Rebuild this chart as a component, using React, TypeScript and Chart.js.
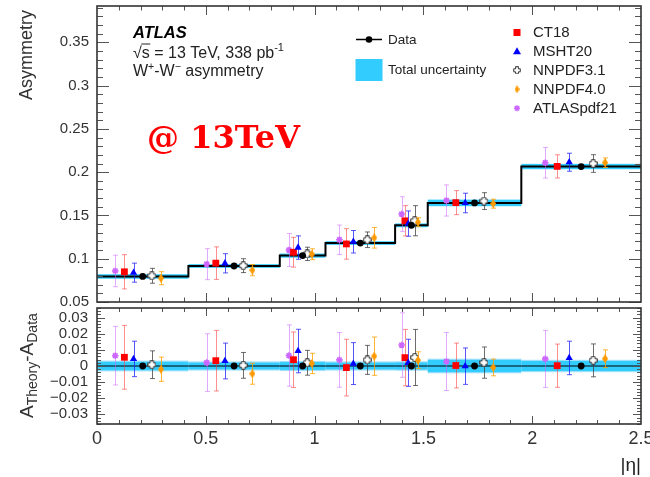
import React, { useEffect, useRef } from 'react';
import { Chart, registerables } from 'chart.js';

Chart.register(...registerables);

const FONT = "'Liberation Sans', Arial, Helvetica, sans-serif";
Chart.defaults.font.family = FONT;

// |eta| bin edges
const etaEdges = [0, 0.42, 0.84, 1.05, 1.37, 1.52, 1.95, 2.5];
// measured W+/W- asymmetry and its total uncertainty
const dataAsym = [0.0795, 0.0916, 0.1036, 0.1181, 0.1386, 0.1645, 0.2065];
const dataTotalUnc = [0.0026, 0.0021, 0.0024, 0.0021, 0.0022, 0.0038, 0.0031];
// theory predictions
const ct18Asym = [0.0849, 0.0949, 0.1075, 0.1171, 0.1438, 0.1648, 0.2067];
const ct18Unc = [0.0198, 0.0188, 0.0172, 0.0176, 0.0175, 0.0139, 0.0134];
const msht20Asym = [0.0839, 0.0947, 0.1129, 0.1196, 0.1406, 0.1644, 0.2115];
const msht20Unc = [0.011, 0.0111, 0.0135, 0.013, 0.0146, 0.0113, 0.0104];
const nnpdf31Asym = [0.0803, 0.092, 0.1056, 0.1219, 0.1439, 0.1666, 0.21];
const nnpdf31Unc = [0.0086, 0.008, 0.0077, 0.009, 0.0174, 0.0097, 0.0102];
const nnpdf40Asym = [0.0775, 0.0868, 0.1052, 0.1242, 0.1422, 0.1636, 0.211];
const nnpdf40Unc = [0.0075, 0.0065, 0.0063, 0.0119, 0.0052, 0.0052, 0.0055];
const atlaspdf21Asym = [0.0859, 0.0937, 0.1101, 0.1219, 0.1516, 0.1673, 0.2109];
const atlaspdf21Unc = [0.0182, 0.0179, 0.019, 0.017, 0.02, 0.018, 0.0177];

// tick labels
const xTickValues = [0, 0.5, 1, 1.5, 2, 2.5];
const yTickValuesTop = [0.05, 0.1, 0.15, 0.2, 0.25, 0.3, 0.35];
const yTickValuesRatio = [-0.03, -0.02, -0.01, 0, 0.01, 0.02, 0.03];

// horizontal offset of each series inside a bin (fraction of bin width)
const offAtlas = -0.3, offCt18 = -0.2, offMsht = -0.1, offData = 0, offNn31 = 0.1, offNn40 = 0.2;

const BAND = '#33ccff';
const BAND_EDGE = '#9fe0fb';
const C_ATLAS = '#cc66ff', C_CT18 = '#ff0000', C_MSHT = '#0000ff', C_NN31 = '#333333', C_NN40 = '#ff9900';
const E_ATLAS = 'rgba(204,102,255,0.55)', E_CT18 = 'rgba(255,50,50,0.55)', E_MSHT = 'rgba(30,30,255,0.75)',
  E_NN31 = 'rgba(60,60,60,0.75)', E_NN40 = 'rgba(255,160,0,0.8)';

const pts = (vals: number[], off: number) =>
  vals.map((v, i) => ({ x: (etaEdges[i] + etaEdges[i + 1]) / 2 + off * (etaEdges[i + 1] - etaEdges[i]), y: v }));
const stepPts = (vals: number[]) => [
  ...vals.map((v, i) => ({ x: etaEdges[i], y: v })),
  { x: etaEdges[etaEdges.length - 1], y: vals[vals.length - 1] },
];

const fmt = (v: any) => {
  const n = Number(v);
  if (Math.abs(n) < 1e-9) return '0';
  const s = String(parseFloat(Math.abs(n).toFixed(4)));
  return n < 0 ? '\u2212' + s : s;
};

function makeOpenCross(size: number, arm: number, color: string) {
  const c = document.createElement('canvas');
  c.width = size; c.height = size;
  const g = c.getContext('2d')!;
  const h = size / 2, a = arm / 2, m = h - 0.7;
  g.beginPath();
  g.moveTo(h - a, h - m); g.lineTo(h + a, h - m); g.lineTo(h + a, h - a); g.lineTo(h + m, h - a);
  g.lineTo(h + m, h + a); g.lineTo(h + a, h + a); g.lineTo(h + a, h + m); g.lineTo(h - a, h + m);
  g.lineTo(h - a, h + a); g.lineTo(h - m, h + a); g.lineTo(h - m, h - a); g.lineTo(h - a, h - a);
  g.closePath();
  g.fillStyle = '#ffffff'; g.fill();
  g.strokeStyle = color; g.lineWidth = 1; g.stroke();
  return c;
}
function makeDiamond(w: number, hgt: number, color: string) {
  const c = document.createElement('canvas');
  c.width = w; c.height = hgt;
  const g = c.getContext('2d')!;
  g.beginPath();
  g.moveTo(w / 2, 0); g.lineTo(w, hgt / 2); g.lineTo(w / 2, hgt); g.lineTo(0, hgt / 2); g.closePath();
  g.fillStyle = color; g.fill();
  return c;
}

const errorBars = {
  id: 'errorBars',
  beforeDatasetDraw(chart: any, args: any) {
    const ds = chart.data.datasets[args.index];
    if (!ds.errors) return;
    const ys = chart.scales.y;
    const ctx = chart.ctx;
    ctx.save();
    ctx.strokeStyle = ds.errorColor;
    ctx.lineWidth = 1;
    args.meta.data.forEach((p: any, i: number) => {
      const v = ds.data[i].y, e = ds.errors[i];
      const yt = ys.getPixelForValue(v + e), yb = ys.getPixelForValue(v - e);
      const x = Math.round(p.x) + 0.5;
      ctx.beginPath();
      ctx.moveTo(x, yt); ctx.lineTo(x, yb);
      ctx.moveTo(x - 2.5, yt); ctx.lineTo(x + 2.5, yt);
      ctx.moveTo(x - 2.5, yb); ctx.lineTo(x + 2.5, yb);
      ctx.stroke();
    });
    ctx.restore();
  },
};

// uncertainty band: one box per bin, positioned through the chart's scales
function makeBand(centers: number[] | null, edge: number) {
  return {
    id: 'bandBoxes',
    beforeDatasetsDraw(chart: any) {
      const xs = chart.scales.x, ys = chart.scales.y, ctx = chart.ctx;
      ctx.save();
      for (let i = 0; i < dataTotalUnc.length; i++) {
        const c = centers ? centers[i] : 0;
        const e = dataTotalUnc[i];
        const x0 = xs.getPixelForValue(etaEdges[i]), x1 = xs.getPixelForValue(etaEdges[i + 1]);
        const y0 = ys.getPixelForValue(c + e), y1 = ys.getPixelForValue(c - e);
        if (edge > 0) {
          ctx.fillStyle = BAND_EDGE;
          ctx.fillRect(x0, y0 - edge, x1 - x0, y1 - y0 + 2 * edge);
        }
        ctx.fillStyle = BAND;
        ctx.fillRect(x0, y0, x1 - x0, y1 - y0);
      }
      ctx.restore();
    },
  };
}

function makeFrame(cfg: { xMinor: number; xMajor: number; yMinor: number; yMajor: number; xLen: number[]; yLen: number[] }) {
  return {
    id: 'rootFrame',
    afterDatasetsDraw(chart: any) {
      const { ctx, chartArea: a } = chart;
      const xs = chart.scales.x, ys = chart.scales.y;
      ctx.save();
      ctx.strokeStyle = '#555';
      ctx.lineWidth = 1;
      ctx.beginPath();
      const nx = Math.round((xs.max - xs.min) / cfg.xMinor);
      for (let i = 1; i < nx; i++) {
        const v = xs.min + i * cfg.xMinor;
        const r = v / cfg.xMajor;
        const major = Math.abs(r - Math.round(r)) < 1e-6;
        const L = major ? cfg.xLen[0] : cfg.xLen[1];
        const px = Math.round(xs.getPixelForValue(v)) + 0.5;
        ctx.moveTo(px, a.bottom); ctx.lineTo(px, a.bottom - L);
        ctx.moveTo(px, a.top); ctx.lineTo(px, a.top + L);
      }
      const i0 = Math.ceil(ys.min / cfg.yMinor - 1e-6), i1 = Math.floor(ys.max / cfg.yMinor + 1e-6);
      for (let i = i0; i <= i1; i++) {
        const v = i * cfg.yMinor;
        const r = v / cfg.yMajor;
        const major = Math.abs(r - Math.round(r)) < 1e-6;
        const L = major ? cfg.yLen[0] : cfg.yLen[1];
        const py = Math.round(ys.getPixelForValue(v)) + 0.5;
        ctx.moveTo(a.left, py); ctx.lineTo(a.left + L, py);
        ctx.moveTo(a.right, py); ctx.lineTo(a.right - L, py);
      }
      ctx.stroke();
      ctx.strokeStyle = '#333';
      ctx.lineWidth = 1.6;
      ctx.strokeRect(a.left, a.top, a.right - a.left, a.bottom - a.top);
      ctx.restore();
    },
  };
}

type Run = { t: string; size: number; dy?: number; style?: string; family?: string };
function drawRuns(ctx: CanvasRenderingContext2D, x: number, y: number, runs: Run[]) {
  let cx = x;
  const pos: number[] = [];
  for (const r of runs) {
    ctx.font = `${r.style ?? ''} ${r.size}px ${r.family ?? FONT}`;
    pos.push(cx);
    ctx.fillText(r.t, cx, y + (r.dy ?? 0));
    cx += ctx.measureText(r.t).width;
  }
  pos.push(cx);
  return pos;
}

const legendCross = makeOpenCross(8, 3, '#333');
const legendDiamond = makeDiamond(5, 8, C_NN40);

const topAnnotations = {
  id: 'topAnnotations',
  afterDraw(chart: any) {
    const ctx: CanvasRenderingContext2D = chart.ctx;
    ctx.save();
    // y title
    ctx.save();
    ctx.translate(27, 10);
    ctx.rotate(-Math.PI / 2);
    ctx.fillStyle = '#333';
    ctx.textAlign = 'right';
    ctx.textBaseline = 'middle';
    ctx.font = `18px ${FONT}`;
    ctx.fillText('Asymmetry', 0, 0);
    ctx.restore();

    ctx.textBaseline = 'alphabetic';
    ctx.textAlign = 'left';
    ctx.fillStyle = '#000';
    drawRuns(ctx, 133, 37.5, [{ t: 'ATLAS', size: 16.5, style: 'italic bold' }]);
    ctx.fillStyle = '#222';
    const p = drawRuns(ctx, 133, 57.5, [
      { t: '\u221A', size: 16 },
      { t: 's', size: 16 },
      { t: ' = 13 TeV, 338 pb', size: 16 },
      { t: '-1', size: 11, dy: -7 },
    ]);
    ctx.strokeStyle = '#222';
    ctx.lineWidth = 1;
    ctx.beginPath();
    ctx.moveTo(p[1] - 0.5, 57.5 - 13.5);
    ctx.lineTo(p[2] + 0.5, 57.5 - 13.5);
    ctx.stroke();
    drawRuns(ctx, 133, 76, [
      { t: 'W', size: 16 },
      { t: '+', size: 10.5, dy: -6.5 },
      { t: '-W', size: 16 },
      { t: '\u2212', size: 10.5, dy: -6.5 },
      { t: ' asymmetry', size: 16 },
    ]);
    // red note
    ctx.fillStyle = '#ff0000';
    drawRuns(ctx, 147, 148, [{ t: '@ 13TeV', size: 32, style: 'bold', family: "'DejaVu Serif', serif" }]);

    // legend, left column
    ctx.fillStyle = '#222';
    ctx.textBaseline = 'middle';
    ctx.font = `13.5px ${FONT}`;
    ctx.strokeStyle = '#000';
    ctx.lineWidth = 1.5;
    ctx.beginPath(); ctx.moveTo(356, 39.5); ctx.lineTo(382, 39.5); ctx.stroke();
    ctx.fillStyle = '#000';
    ctx.beginPath(); ctx.arc(369, 39.5, 3.3, 0, Math.PI * 2); ctx.fill();
    ctx.fillStyle = '#222';
    ctx.fillText('Data', 388, 40);
    ctx.fillStyle = BAND;
    ctx.fillRect(355.5, 59, 27, 22);
    ctx.fillStyle = '#222';
    ctx.fillText('Total uncertainty', 388, 70.5);

    // legend, right column
    const mx = 517, tx = 533;
    const rows = [32.5, 51.3, 70.3, 89.3, 108.3];
    ctx.font = `15px ${FONT}`;
    ctx.fillStyle = C_CT18; ctx.fillRect(mx - 3.5, rows[0] - 3.5, 7, 7);
    ctx.fillStyle = C_MSHT;
    ctx.beginPath(); ctx.moveTo(mx, rows[1] - 4); ctx.lineTo(mx + 4, rows[1] + 3); ctx.lineTo(mx - 4, rows[1] + 3); ctx.closePath(); ctx.fill();
    ctx.drawImage(legendCross, mx - 4, rows[2] - 4);
    ctx.drawImage(legendDiamond, mx - 2.5, rows[3] - 4);
    ctx.strokeStyle = C_ATLAS; ctx.lineWidth = 1.4;
    ctx.beginPath();
    ctx.moveTo(mx - 3, rows[4]); ctx.lineTo(mx + 3, rows[4]);
    ctx.moveTo(mx, rows[4] - 3); ctx.lineTo(mx, rows[4] + 3);
    ctx.moveTo(mx - 2.2, rows[4] - 2.2); ctx.lineTo(mx + 2.2, rows[4] + 2.2);
    ctx.moveTo(mx - 2.2, rows[4] + 2.2); ctx.lineTo(mx + 2.2, rows[4] - 2.2);
    ctx.stroke();
    ctx.fillStyle = '#222';
    ['CT18', 'MSHT20', 'NNPDF3.1', 'NNPDF4.0', 'ATLASpdf21'].forEach((t, i) => ctx.fillText(t, tx, rows[i] + 0.5));
    ctx.restore();
  },
};

const ratioTitle = {
  id: 'ratioTitle',
  afterDraw(chart: any) {
    const ctx: CanvasRenderingContext2D = chart.ctx;
    ctx.save();
    ctx.translate(33, 418);
    ctx.rotate(-Math.PI / 2);
    ctx.fillStyle = '#333';
    ctx.textBaseline = 'alphabetic';
    ctx.textAlign = 'left';
    drawRuns(ctx, 0, 0, [
      { t: 'A', size: 19 },
      { t: 'Theory', size: 14, dy: 4 },
      { t: '-A', size: 19 },
      { t: 'Data', size: 14, dy: 4 },
    ]);
    ctx.restore();
  },
};

const crossImg = () => makeOpenCross(9, 3.5, '#333');
const diamondImg = () => makeDiamond(6, 9, C_NN40);

function theorySets(shift: number[] | null) {
  const tr = (vals: number[]) => (shift ? vals.map((v, i) => v - shift[i]) : vals);
  return [
    { label: 'ATLASpdf21', data: pts(tr(atlaspdf21Asym), offAtlas), errors: atlaspdf21Unc, errorColor: E_ATLAS,
      showLine: false, pointStyle: 'star', pointRadius: 3.3, borderColor: C_ATLAS, backgroundColor: C_ATLAS, pointBorderWidth: 1.6, order: 5 },
    { label: 'CT18', data: pts(tr(ct18Asym), offCt18), errors: ct18Unc, errorColor: E_CT18,
      showLine: false, pointStyle: 'rect', pointRadius: 4.8, borderColor: C_CT18, backgroundColor: C_CT18, pointBorderWidth: 0, order: 4 },
    { label: 'MSHT20', data: pts(tr(msht20Asym), offMsht), errors: msht20Unc, errorColor: E_MSHT,
      showLine: false, pointStyle: 'triangle', pointRadius: 4.2, borderColor: C_MSHT, backgroundColor: C_MSHT, pointBorderWidth: 0, order: 3 },
    { label: 'NNPDF3.1', data: pts(tr(nnpdf31Asym), offNn31), errors: nnpdf31Unc, errorColor: E_NN31,
      showLine: false, pointStyle: crossImg(), pointRadius: 4, borderColor: C_NN31, backgroundColor: '#fff', order: 2 },
    { label: 'NNPDF4.0', data: pts(tr(nnpdf40Asym), offNn40), errors: nnpdf40Unc, errorColor: E_NN40,
      showLine: false, pointStyle: diamondImg(), pointRadius: 4, borderColor: C_NN40, backgroundColor: C_NN40, order: 1 },
  ];
}

function topConfig(): any {
  return {
    type: 'line',
    data: {
      datasets: [
        { label: 'dataStep', data: stepPts(dataAsym), stepped: true, fill: false, borderColor: '#000', borderWidth: 2,
          pointRadius: 0, order: 7 },
        ...theorySets(null),
        { label: 'Data', data: pts(dataAsym, offData), showLine: false, pointStyle: 'circle', pointRadius: 3.4,
          borderColor: '#000', backgroundColor: '#000', pointBorderWidth: 0, order: 0 },
      ],
    },
    options: {
      responsive: false,
      animation: false,
      events: [],
      layout: { padding: { top: 6, right: 9, bottom: 175, left: 0 } },
      plugins: { legend: { display: false }, tooltip: { enabled: false } },
      scales: {
        x: { type: 'linear', min: 0, max: 2.5, display: false },
        y: {
          type: 'linear', min: 0.05, max: 0.392,
          afterBuildTicks: (s: any) => { s.ticks = yTickValuesTop.map((v) => ({ value: v })); },
          afterFit: (s: any) => { s.width = 97; s.paddingTop = 0; s.paddingBottom = 0; },
          grid: { display: false, drawTicks: false },
          border: { display: false },
          ticks: { padding: 8, color: '#333', font: { size: 15 }, callback: fmt, autoSkip: false },
        },
      },
    },
    plugins: [makeBand(dataAsym, 0), errorBars, makeFrame({ xMinor: 0.1, xMajor: 0.5, yMinor: 0.01, yMajor: 0.05, xLen: [9, 4.5], yLen: [12, 6] }), topAnnotations],
  };
}

function ratioConfig(): any {
  const zero = dataAsym.map(() => 0);
  return {
    type: 'line',
    data: {
      datasets: [
        { label: 'zero', data: stepPts(zero), stepped: true, fill: false, borderColor: '#000', borderWidth: 1,
          pointRadius: 0, order: 7 },
        ...theorySets(dataAsym),
        { label: 'Data', data: pts(zero, offData), showLine: false, pointStyle: 'circle', pointRadius: 3.4,
          borderColor: '#000', backgroundColor: '#000', pointBorderWidth: 0, order: 0 },
      ],
    },
    options: {
      responsive: false,
      animation: false,
      events: [],
      layout: { padding: { top: 308, right: 9, bottom: 0, left: 0 } },
      plugins: { legend: { display: false }, tooltip: { enabled: false } },
      scales: {
        x: {
          type: 'linear', min: 0, max: 2.5,
          afterBuildTicks: (s: any) => { s.ticks = xTickValues.map((v) => ({ value: v })); },
          afterFit: (s: any) => { s.height = 53; s.paddingLeft = 0; s.paddingRight = 0; },
          grid: { display: false, drawTicks: false },
          border: { display: false },
          ticks: { padding: 4, color: '#333', font: { size: 18 }, callback: fmt, maxRotation: 0, autoSkip: false },
          title: { display: true, text: '|\u03b7|', align: 'end', color: '#222', font: { size: 19 }, padding: { top: 0, bottom: 0 } },
        },
        y: {
          type: 'linear', min: -0.036, max: 0.036,
          afterBuildTicks: (s: any) => { s.ticks = yTickValuesRatio.map((v) => ({ value: v })); },
          afterFit: (s: any) => { s.width = 97; s.paddingTop = 0; s.paddingBottom = 0; },
          grid: { display: false, drawTicks: false },
          border: { display: false },
          ticks: { padding: 9, color: '#333', font: { size: 15 }, callback: fmt, autoSkip: false },
        },
      },
    },
    plugins: [makeBand(null, 1.2), errorBars, makeFrame({ xMinor: 0.1, xMajor: 0.5, yMinor: 0.002, yMajor: 0.01, xLen: [8, 4], yLen: [8, 4] }), ratioTitle],
  };
}

export default function App() {
  const topRef = useRef<HTMLCanvasElement>(null);
  const botRef = useRef<HTMLCanvasElement>(null);
  useEffect(() => {
    document.body.style.margin = '0';
    document.body.style.overflow = 'hidden';
    const bot = new Chart(botRef.current!, ratioConfig());
    const top = new Chart(topRef.current!, topConfig());
    return () => {
      top.destroy();
      bot.destroy();
    };
  }, []);
  return (
    <div style={{ position: 'relative', width: 650, height: 477, overflow: 'hidden', background: '#fff' }}>
      <canvas ref={botRef} width={650} height={477} style={{ position: 'absolute', left: 0, top: 0 }} />
      <canvas ref={topRef} width={650} height={477} style={{ position: 'absolute', left: 0, top: 0 }} />
    </div>
  );
}
